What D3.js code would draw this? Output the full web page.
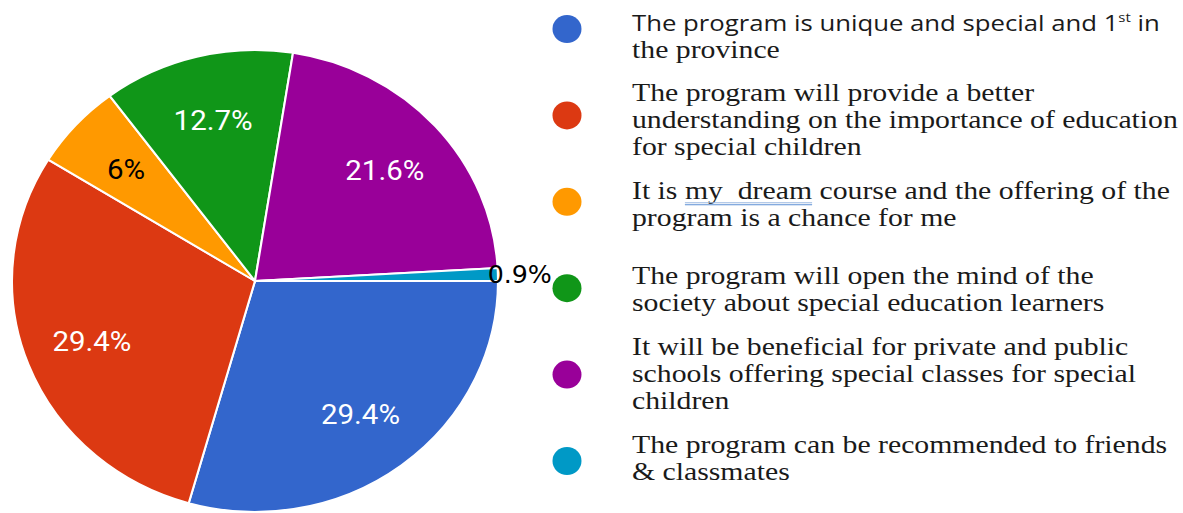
<!DOCTYPE html>
<html>
<head>
<meta charset="utf-8">
<script src="https://cdn.jsdelivr.net/npm/d3@7"></script>
<style>
  body { margin: 0; background: #fff; overflow: hidden; }
  .serif { font-family: "Times New Roman", Tinos, "Liberation Serif", Times, serif; }
  .sans { font-family: "Open Sans", "Noto Sans", "Liberation Sans", sans-serif; }
</style>
</head>
<body>
<div id="chart"></div>
<script>
// Data
const categories = ["unique", "understanding", "dream", "open mind", "beneficial", "recommend"];
const shares = [29.4, 29.4, 6, 12.7, 21.6, 0.9];
const shareLabels = ["29.4%", "29.4%", "6%", "12.7%", "21.6%", "0.9%"];
const colors = ["#3366cc", "#dc3912", "#ff9900", "#109618", "#990099", "#0099c6"];
// legend text, one entry per line (^..^ = superscript, ~..~ = spell-check underline)
const legendLines = [
  ["The program is unique and special and 1^st^ in", "the province"],
  ["The program will provide a better", "understanding on the importance of education", "for special children"],
  ["It is ~my  dream~ course and the offering of the", "program is a chance for me"],
  ["The program will open the mind of the", "society about special education learners"],
  ["It will be beneficial for private and public", "schools offering special classes for special", "children"],
  ["The program can be recommended to friends", "& classmates"]
];

const width = 1183, height = 513;
const svg = d3.select("#chart").append("svg")
    .attr("width", width).attr("height", height);

// PIE
const radius = 231, stretch = 1.052;
const pieG = svg.append("g")
    .attr("transform", `translate(255,281) scale(${stretch},1)`);

const pie = d3.pie().sort(null).value(d => d)
    .startAngle(Math.PI / 2).endAngle(Math.PI / 2 + 2 * Math.PI);
const arcs = pie(shares);

const arc = d3.arc().innerRadius(0).outerRadius(radius);
const labelArc = d3.arc().innerRadius(radius * 0.72).outerRadius(radius * 0.72);
const outerArc = d3.arc().innerRadius(radius * 1.09).outerRadius(radius * 1.09);

pieG.selectAll("path.slice")
  .data(arcs)
  .join("path")
    .attr("class", "slice")
    .attr("d", arc)
    .attr("fill", (d, i) => colors[i])
    .attr("stroke", "#fff")
    .attr("stroke-width", 2);

// Slice labels
pieG.selectAll("text.pct")
  .data(arcs)
  .join("text")
    .attr("class", "pct")
    .attr("transform", (d, i) => `translate(${(shares[i] < 2 ? outerArc : labelArc).centroid(d)})`)
    .attr("text-anchor", "middle")
    .attr("dy", "0.36em")
    .style("font-family", (d, i) => shares[i] < 2 ? "'DejaVu Sans'" : "Roboto")
    .attr("font-size", (d, i) => shares[i] < 2 ? 24 : 28)
    .attr("fill", (d, i) => (shares[i] < 2 || d3.lab(colors[i]).l > 65) ? "#000" : "#fff")
    .text((d, i) => shareLabels[i]);

// LEGEND
const dotY = d3.scalePoint().domain(categories).range([29, 461]);
const blockY = d3.scalePoint().domain(categories).range([36, 458]);
const lineGap = 27;

const legend = svg.append("g").attr("id", "legend");

legend.selectAll("ellipse")
  .data(categories)
  .join("ellipse")
    .attr("cx", 567)
    .attr("cy", d => dotY(d))
    .attr("rx", 14.5)
    .attr("ry", 14)
    .attr("fill", (d, i) => colors[i]);

// Line "Blueprint"
function drawLine(g, str) {
  const t = g.append("text").style("white-space", "pre");
  const parts = str.split(/(\^[^^]+\^|~[^~]+~)/).filter(s => s.length);
  let afterSup = false;
  parts.forEach(p => {
    if (p.startsWith("^")) {
      t.append("tspan").attr("dy", -9).attr("font-size", "0.58em").text(p.slice(1, -1));
      afterSup = true;
    } else if (p.startsWith("~")) {
      t.append("tspan").text(p.slice(1, -1));
    } else {
      const s = t.append("tspan").text(p);
      if (afterSup) { s.attr("dy", 9); afterSup = false; }
    }
  });
  // spell-check underline
  const m = str.match(/~([^~]+)~/);
  if (m) {
    const plain = str.replace(/[~^]/g, "");
    const idx = plain.indexOf(m[1]);
    const x0 = t.node().getStartPositionOfChar(idx).x;
    const x1 = t.node().getEndPositionOfChar(idx + m[1].length - 1).x;
    [3.5, 5.5].forEach(o => g.append("line")
      .attr("x1", x0).attr("x2", x1).attr("y1", o).attr("y2", o)
      .attr("stroke", o < 5 ? "#9bb8e0" : "#5b8fd4").attr("stroke-width", 1));
  }
  return t;
}

const lineGroups = [];
legendLines.forEach((lines, i) => {
  const first = blockY(categories[i]) + 8 - (lines.length - 1) * lineGap / 2;
  lines.forEach((ln, j) => {
    const sans = (i === 0 && j === 0);
    const g = legend.append("g").datum({ y: first + j * lineGap, sans })
      .attr("class", sans ? "sans" : "serif")
      .attr("font-size", sans ? 22 : 25)
      .attr("fill", "#1a1a1a");
    const t = drawLine(g, ln);
    lineGroups.push({ g, t, sans });
  });
});

// Fit widths to the reference text block
const serifMax = d3.max(lineGroups.filter(d => !d.sans), d => d.t.node().getComputedTextLength());
const sxSerif = 546 / serifMax;
lineGroups.forEach(d => {
  const sx = d.sans ? 528 / d.t.node().getComputedTextLength() : sxSerif;
  d.g.attr("transform", `translate(632,${d.g.datum().y}) scale(${sx},1)`);
});
</script>
</body>
</html>
